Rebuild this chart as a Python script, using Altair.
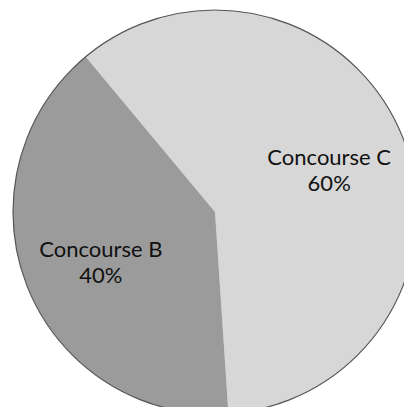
import math
import altair as alt
import pandas as pd

categories = ["Concourse C", "Concourse B"]
shares = [60, 40]
labels = ["60%", "40%"]
colors = ["#d7d7d7", "#9b9b9b"]

df = pd.DataFrame({
    "cat": categories,
    "share": shares,
    "order": list(range(len(categories))),
    "text": [f"{c}\n{l}" for c, l in zip(categories, labels)],
})

start = -0.695
theta_scale = alt.Scale(range=[start, start + 2 * math.pi])
cx, cy, R = 207, 204, 202

base = alt.Chart(df).encode(
    theta=alt.Theta("share:Q", stack=True, scale=theta_scale),
    order=alt.Order("order:Q"),
    x=alt.value(cx),
    y=alt.value(cy),
)

arcs = base.mark_arc(radius=R, stroke=None).encode(
    color=alt.Color("cat:N", scale=alt.Scale(domain=categories, range=colors), legend=None)
)

text = base.mark_text(
    radius=123, font="Lato", fontSize=22, lineBreak="\n", lineHeight=26, dy=-8,
    color="#111111", baseline="middle", align="center",
).encode(text="text:N")

outline = alt.Chart(pd.DataFrame({"v": [1]})).mark_arc(
    radius=R, theta=0, theta2=2 * math.pi, filled=False, fill=None,
    stroke="#555555", strokeWidth=1.2,
).encode(x=alt.value(cx), y=alt.value(cy))

chart = alt.layer(arcs, outline, text).properties(
    width=396, height=399, padding=0, autosize=alt.AutoSizeParams(type="none"),
    background="white",
).configure_view(stroke=None)

chart.save("out.html", embed_options={"renderer": "svg", "actions": False})
